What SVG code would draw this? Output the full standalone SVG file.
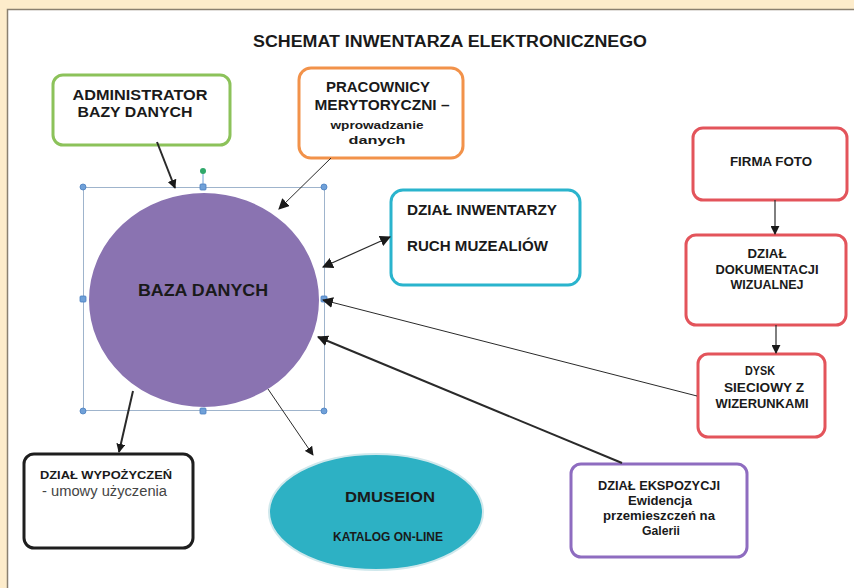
<svg xmlns="http://www.w3.org/2000/svg" width="854" height="588" viewBox="0 0 854 588">
<defs>
<marker id="ahs" viewBox="0 0 10 10" refX="9" refY="5" markerWidth="9" markerHeight="9" orient="auto-start-reverse" markerUnits="userSpaceOnUse">
<path d="M0,0 L10,5 L0,10 z" fill="#1a1a1a"/>
</marker>
<marker id="ahm" viewBox="0 0 10 10" refX="9" refY="5" markerWidth="11" markerHeight="11" orient="auto-start-reverse" markerUnits="userSpaceOnUse">
<path d="M0,0 L10,5 L0,10 z" fill="#1a1a1a"/>
</marker>
</defs>
<style>
text{font-family:"Liberation Sans",Arial,sans-serif;fill:#1a1a1a}
.b{font-weight:bold}
.box{fill:#fff;stroke-width:3}
.c{text-anchor:middle}
.ln{stroke:#2a2a2a;fill:none}
.h{fill:#6fa0d8;stroke:#4a7fc0;stroke-width:0.8}
</style>
<rect x="0" y="0" width="854" height="588" fill="#fdeccb"/>
<rect x="7" y="9" width="847" height="579" fill="#ffffff"/>
<path d="M7.5,588 L7.5,9.5 L854,9.5" fill="none" stroke="#8a8070" stroke-width="1.5"/>

<text class="b c" x="450" y="47" font-size="16" textLength="394" lengthAdjust="spacingAndGlyphs">SCHEMAT INWENTARZA ELEKTRONICZNEGO</text>

<g id="baza">
<rect x="83.5" y="187.5" width="241" height="223" fill="none" stroke="#9fb4cc" stroke-width="1"/>
<line x1="203" y1="171" x2="203" y2="187" stroke="#6fa0d8" stroke-width="1"/>
<circle cx="203" cy="171" r="3" fill="#2fa86a"/>
<ellipse cx="204" cy="300" rx="116" ry="108" fill="#8a73b1" stroke="#ffffff" stroke-width="2"/>
<rect class="h" x="80" y="184" width="6" height="6" rx="3"/>
<rect class="h" x="200" y="184" width="6" height="6" rx="1"/>
<rect class="h" x="321" y="184" width="6" height="6" rx="3"/>
<rect class="h" x="80" y="296" width="6" height="6" rx="1"/>
<rect class="h" x="321" y="296" width="6" height="6" rx="1"/>
<rect class="h" x="80" y="408" width="6" height="6" rx="3"/>
<rect class="h" x="200" y="408" width="6" height="6" rx="1"/>
<rect class="h" x="321" y="408" width="6" height="6" rx="3"/>
<text class="b c" x="203" y="296" font-size="16" textLength="130" lengthAdjust="spacingAndGlyphs">BAZA DANYCH</text>
</g>

<g id="admin">
<rect class="box" x="53" y="75" width="177" height="70" rx="10" stroke="#8cc25a"/>
<text class="b c" x="140" y="100" font-size="14" textLength="135" lengthAdjust="spacingAndGlyphs">ADMINISTRATOR</text>
<text class="b c" x="135" y="117" font-size="14" textLength="115" lengthAdjust="spacingAndGlyphs">BAZY DANYCH</text>
</g>

<g id="pracownicy">
<rect class="box" x="299" y="68" width="164" height="90" rx="12" stroke="#f2924a"/>
<text class="b c" x="378" y="92" font-size="14" textLength="104" lengthAdjust="spacingAndGlyphs">PRACOWNICY</text>
<text class="b c" x="382" y="110" font-size="14" textLength="135" lengthAdjust="spacingAndGlyphs">MERYTORYCZNI –</text>
<text class="b c" x="377" y="129" font-size="11" textLength="93" lengthAdjust="spacingAndGlyphs">wprowadzanie</text>
<text class="b c" x="377" y="144" font-size="11" textLength="57" lengthAdjust="spacingAndGlyphs">danych</text>
</g>

<g id="inwentarze">
<rect class="box" x="391" y="190" width="189" height="95" rx="12" stroke="#2ab4cd"/>
<text class="b" x="407" y="215" font-size="14" textLength="150" lengthAdjust="spacingAndGlyphs">DZIAŁ INWENTARZY</text>
<text class="b" x="407" y="251" font-size="14" textLength="141" lengthAdjust="spacingAndGlyphs">RUCH MUZEALIÓW</text>
</g>

<g id="firma">
<rect class="box" x="693" y="128" width="154" height="72" rx="10" stroke="#e3545b"/>
<text class="b c" x="771" y="166" font-size="12" textLength="82" lengthAdjust="spacingAndGlyphs">FIRMA FOTO</text>
</g>

<g id="dokumentacja">
<rect class="box" x="686" y="235" width="160" height="90" rx="10" stroke="#e3545b"/>
<text class="b c" x="767" y="258" font-size="12" textLength="39" lengthAdjust="spacingAndGlyphs">DZIAŁ</text>
<text class="b c" x="767" y="274" font-size="12" textLength="103" lengthAdjust="spacingAndGlyphs">DOKUMENTACJI</text>
<text class="b c" x="767" y="289" font-size="12" textLength="73" lengthAdjust="spacingAndGlyphs">WIZUALNEJ</text>
</g>

<g id="dysk">
<rect class="box" x="698" y="354" width="127" height="83" rx="10" stroke="#e3545b"/>
<text class="b c" x="760" y="375" font-size="12" textLength="30" lengthAdjust="spacingAndGlyphs">DYSK</text>
<text class="b c" x="764" y="392" font-size="12" textLength="80" lengthAdjust="spacingAndGlyphs">SIECIOWY Z</text>
<text class="b c" x="762" y="408" font-size="12" textLength="93" lengthAdjust="spacingAndGlyphs">WIZERUNKAMI</text>
</g>

<g id="ekspozycja">
<rect class="box" x="571" y="464" width="176" height="93" rx="10" stroke="#8e6cc0"/>
<text class="b c" x="659" y="490" font-size="12" textLength="122" lengthAdjust="spacingAndGlyphs">DZIAŁ EKSPOZYCJI</text>
<text class="b c" x="660" y="505" font-size="12" textLength="64" lengthAdjust="spacingAndGlyphs">Ewidencja</text>
<text class="b c" x="659" y="520" font-size="12" textLength="112" lengthAdjust="spacingAndGlyphs">przemieszczeń na</text>
<text class="b c" x="661" y="535" font-size="12" textLength="38" lengthAdjust="spacingAndGlyphs">Galerii</text>
</g>

<g id="wypozyczenia">
<rect class="box" x="24" y="454" width="169" height="94" rx="10" stroke="#1e1e1e" stroke-width="3.5"/>
<text class="b" x="40" y="479" font-size="11.5" textLength="132" lengthAdjust="spacingAndGlyphs">DZIAŁ WYPOŻYCZEŃ</text>
<text x="42" y="496" font-size="14" textLength="125" lengthAdjust="spacingAndGlyphs" style="fill:#444">- umowy użyczenia</text>
</g>

<g id="dmuseion">
<ellipse cx="376" cy="512" rx="107" ry="58" fill="#2db1c4" stroke="#d0e8ec" stroke-width="2"/>
<text class="b c" x="390" y="502" font-size="14" textLength="90" lengthAdjust="spacingAndGlyphs">DMUSEION</text>
<text class="b c" x="388" y="541" font-size="12" textLength="110" lengthAdjust="spacingAndGlyphs">KATALOG ON-LINE</text>
</g>

<g id="connectors">
<line class="ln" x1="157" y1="142" x2="175" y2="188" stroke-width="2" marker-end="url(#ahs)"/>
<line class="ln" x1="331" y1="158" x2="279" y2="209" stroke-width="1" marker-end="url(#ahm)"/>
<line class="ln" x1="323" y1="267" x2="390" y2="237" stroke-width="1.2" marker-start="url(#ahm)" marker-end="url(#ahm)"/>
<line class="ln" x1="697" y1="396" x2="323" y2="300" stroke-width="1" marker-end="url(#ahm)"/>
<line class="ln" x1="622" y1="463" x2="318" y2="337" stroke-width="2" marker-end="url(#ahm)"/>
<line class="ln" x1="133" y1="391" x2="119" y2="452" stroke-width="2" marker-end="url(#ahs)"/>
<line class="ln" x1="268" y1="389" x2="313" y2="455" stroke-width="1" marker-end="url(#ahs)"/>
<line class="ln" x1="775" y1="200" x2="775" y2="234" stroke-width="1.2" marker-end="url(#ahs)"/>
<line class="ln" x1="776" y1="325" x2="776" y2="353" stroke-width="1.2" marker-end="url(#ahs)"/>
</g>
</svg>
